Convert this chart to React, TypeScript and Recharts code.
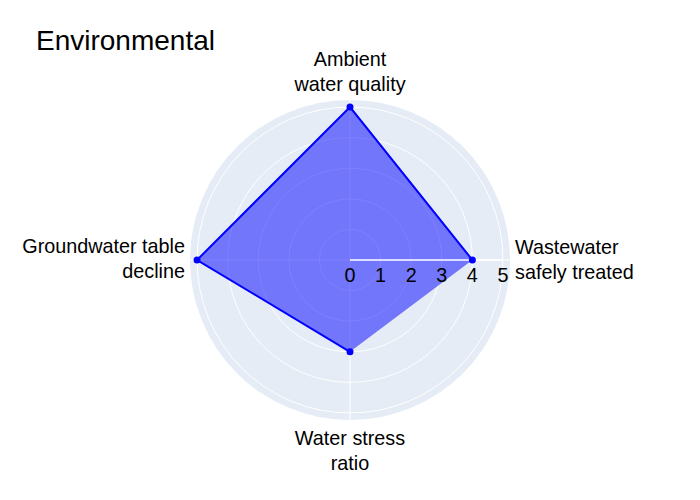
import { RadarChart, Radar, PolarGrid, PolarAngleAxis, PolarRadiusAxis } from "recharts";

// clockwise from the top
const indicators = [
  "Ambient\nwater quality",
  "Wastewater\nsafely treated",
  "Water stress\nratio",
  "Groundwater table\ndecline",
];
const scores = [5, 4, 3, 5];
// order in which the original trace draws its line (it is left open)
const lineOrder = [1, 0, 3, 2];
const radiusTicks = [0, 1, 2, 3, 4, 5];
const radiusMax = 5.23;

const data = indicators.map((name, i) => ({ indicator: name, score: scores[i] }));

const FONT = '"Liberation Sans", Arial, sans-serif';

// angular labels, placed around the tick point depending on the side
const AngleTick = (props: any) => {
  const { x, y, cx, cy } = props;
  const lines = String(props.payload.value).split("\n");
  const dx = x - cx;
  const dy = y - cy;
  let tx = x;
  let anchor = "middle";
  let first = 0;
  if (Math.abs(dx) > Math.abs(dy)) {
    if (dx > 0) {
      tx = x - 3;
      anchor = "start";
      first = -6;
    } else {
      tx = x + 3;
      anchor = "end";
      first = -7;
    }
  } else if (dy < 0) {
    first = -26;
  } else {
    first = 17;
  }
  return (
    <text x={tx} y={y + first} textAnchor={anchor} fontSize={19.8} fontFamily={FONT} fill="#000">
      {lines.map((l, i) => (
        <tspan key={i} x={tx} dy={i === 0 ? 0 : 25}>
          {l}
        </tspan>
      ))}
    </text>
  );
};

const RadiusTick = (props: any) => {
  const { x, y, payload } = props;
  return (
    <text x={x} y={y + 22} textAnchor="middle" fontSize={19.8} fontFamily={FONT} fill="#000">
      {payload.value}
    </text>
  );
};

// filled polygon plus an open line (trace is not closed)
const RadarShape = (props: any) => {
  const pts = props.points || [];
  const s = pts.map((p: any) => `${p.x},${p.y}`).join(" ");
  const line = lineOrder
    .filter((i) => pts[i])
    .map((i) => `${pts[i].x},${pts[i].y}`)
    .join(" ");
  return (
    <g>
      <polygon points={s} fill="rgb(0,0,255)" fillOpacity={0.5} stroke="none" />
      <polyline points={line} fill="none" stroke="rgb(0,0,255)" strokeWidth={2} />
    </g>
  );
};

const Dot = (props: any) => <circle key={props.index} cx={props.cx} cy={props.cy} r={3.5} fill="rgb(0,0,255)" />;

export default function App() {
  return (
    <div style={{ position: "absolute", left: 0, top: 0, width: 700, height: 500, background: "#fff" }}>
      <svg width={700} height={500} style={{ position: "absolute", left: 0, top: 0 }}>
        <circle cx={350} cy={260} r={160} fill="#e5ecf6" />
        <text x={36} y={50} fontSize={28} fontFamily={FONT} fill="#000">
          Environmental
        </text>
      </svg>
      <div style={{ position: "absolute", left: 0, top: 0 }}>
        <RadarChart
          width={700}
          height={500}
          data={data}
          cx={350}
          cy={260}
          outerRadius={160}
          margin={{ top: 0, right: 0, bottom: 0, left: 0 }}
        >
          <PolarGrid gridType="circle" stroke="#fff" strokeWidth={1} />
          <PolarAngleAxis dataKey="indicator" tick={AngleTick} tickLine={false} axisLine={false} />
          <Radar dataKey="score" stroke="rgb(0,0,255)" fill="rgb(0,0,255)" fillOpacity={0.5} shape={RadarShape} dot={Dot} isAnimationActive={false} />
          <PolarRadiusAxis
            angle={0}
            domain={[0, radiusMax]}
            ticks={radiusTicks as any}
            type="number"
            axisLine={{ stroke: "#fff", strokeWidth: 1.5 }}
            tickLine={false}
            tick={RadiusTick}
          />
        </RadarChart>
      </div>
    </div>
  );
}
